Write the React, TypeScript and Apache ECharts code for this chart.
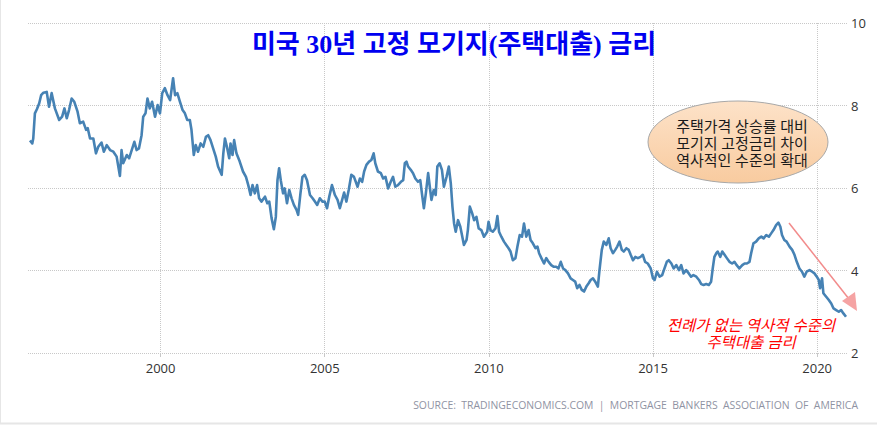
import React, { useEffect, useRef } from 'react';
import * as echarts from 'echarts';

// Weekly 30-year fixed mortgage rate (decimal year, percent)
const weekYears: number[] = [
  1996.02, 1996.09, 1996.12, 1996.17, 1996.23, 1996.30, 1996.36, 1996.43, 1996.53, 1996.60, 1996.68, 1996.78, 1996.91,
  1997.00, 1997.07, 1997.14, 1997.21, 1997.29, 1997.37, 1997.47, 1997.54, 1997.64, 1997.73, 1997.78, 1997.85, 1997.95,
  1998.03, 1998.10, 1998.20, 1998.27, 1998.36, 1998.46, 1998.56, 1998.66, 1998.76, 1998.81, 1998.86, 1998.97,
  1999.04, 1999.12, 1999.20, 1999.27, 1999.34, 1999.42, 1999.47, 1999.54, 1999.60, 1999.67, 1999.74, 1999.83, 1999.91, 1999.98,
  2000.05, 2000.13, 2000.21, 2000.29, 2000.38, 2000.44, 2000.51, 2000.59, 2000.67, 2000.74, 2000.81, 2000.89, 2000.94,
  2001.01, 2001.07, 2001.14, 2001.22, 2001.30, 2001.38, 2001.45, 2001.52, 2001.60, 2001.68, 2001.75, 2001.86, 2001.91, 2001.96,
  2002.03, 2002.09, 2002.13, 2002.19, 2002.24, 2002.31, 2002.41, 2002.51, 2002.60, 2002.67, 2002.74, 2002.80, 2002.87, 2002.94,
  2003.00, 2003.07, 2003.18, 2003.25, 2003.31, 2003.38, 2003.45, 2003.51, 2003.56, 2003.61, 2003.66, 2003.73, 2003.78, 2003.85, 2003.92, 2003.99,
  2004.06, 2004.14, 2004.19, 2004.26, 2004.32, 2004.39, 2004.46, 2004.55, 2004.63, 2004.70, 2004.77, 2004.85, 2004.93,
  2005.00, 2005.07, 2005.14, 2005.22, 2005.31, 2005.39, 2005.46, 2005.53, 2005.59, 2005.66, 2005.73, 2005.81, 2005.89,
  2006.00, 2006.07, 2006.14, 2006.20, 2006.27, 2006.35, 2006.42, 2006.49, 2006.54, 2006.62, 2006.71, 2006.78, 2006.85, 2006.93,
  2007.01, 2007.08, 2007.15, 2007.23, 2007.32, 2007.39, 2007.44, 2007.49, 2007.54, 2007.62, 2007.69, 2007.76, 2007.84, 2007.91, 2007.96,
  2008.02, 2008.08, 2008.15, 2008.20, 2008.25, 2008.32, 2008.38, 2008.43, 2008.50, 2008.57, 2008.63, 2008.71, 2008.78, 2008.84, 2008.89, 2008.94, 2008.99,
  2009.06, 2009.13, 2009.18, 2009.24, 2009.32, 2009.36, 2009.42, 2009.49, 2009.55, 2009.62, 2009.69, 2009.77, 2009.85, 2009.95, 2009.99,
  2010.05, 2010.12, 2010.20, 2010.26, 2010.31, 2010.38, 2010.46, 2010.53, 2010.60, 2010.66, 2010.73, 2010.81, 2010.87, 2010.94,
  2011.01, 2011.07, 2011.14, 2011.21, 2011.27, 2011.34, 2011.42, 2011.48, 2011.53, 2011.60, 2011.68, 2011.75, 2011.82, 2011.90, 2011.98,
  2012.05, 2012.12, 2012.19, 2012.26, 2012.33, 2012.41, 2012.49, 2012.56, 2012.63, 2012.69, 2012.76, 2012.83, 2012.90, 2012.97,
  2013.04, 2013.10, 2013.17, 2013.24, 2013.32, 2013.37, 2013.44, 2013.50, 2013.58, 2013.65, 2013.71, 2013.78, 2013.85, 2013.91, 2013.98,
  2014.05, 2014.11, 2014.19, 2014.26, 2014.32, 2014.39, 2014.46, 2014.54, 2014.62, 2014.69, 2014.76, 2014.84, 2014.93,
  2015.00, 2015.05, 2015.12, 2015.20, 2015.28, 2015.35, 2015.42, 2015.48, 2015.56, 2015.63, 2015.71, 2015.79, 2015.86, 2015.93,
  2016.01, 2016.09, 2016.16, 2016.23, 2016.32, 2016.40, 2016.47, 2016.54, 2016.62, 2016.70, 2016.77, 2016.82, 2016.87, 2016.93, 2016.97,
  2017.05, 2017.11, 2017.18, 2017.25, 2017.33, 2017.41, 2017.48, 2017.55, 2017.63, 2017.72, 2017.79, 2017.86, 2017.94, 2017.99,
  2018.06, 2018.14, 2018.22, 2018.30, 2018.37, 2018.45, 2018.53, 2018.60, 2018.67, 2018.75, 2018.82, 2018.88, 2018.93,
  2019.00, 2019.07, 2019.16, 2019.24, 2019.31, 2019.38, 2019.46, 2019.54, 2019.61, 2019.68, 2019.77, 2019.85, 2019.92, 2019.99,
  2020.05, 2020.09, 2020.15, 2020.19, 2020.27, 2020.35, 2020.43, 2020.50, 2020.58, 2020.66, 2020.73, 2020.80, 2020.88,
];

const weekRates: number[] = [
  7.15, 7.08, 7.2, 7.81, 7.91, 8.05, 8.25, 8.31, 8.33, 7.97, 8.3, 7.93, 7.65,
  7.73, 7.93, 7.69, 7.89, 8.17, 8.09, 7.85, 7.57, 7.61, 7.41, 7.45, 7.2, 7.2,
  6.84, 7.0, 7.1, 6.88, 7.04, 6.92, 6.88, 6.76, 6.29, 6.92, 6.6, 6.8,
  6.72, 6.92, 7.12, 6.92, 6.96, 7.28, 7.73, 7.81, 8.17, 7.93, 8.09, 7.73, 8.01, 7.81,
  8.3, 8.42, 8.25, 8.13, 8.66, 8.25, 8.3, 8.09, 7.89, 7.81, 7.65, 7.65, 7.41,
  6.8, 7.04, 6.88, 7.08, 7.0, 7.24, 7.28, 7.16, 6.96, 6.76, 6.52, 6.32, 6.84, 7.2,
  6.96, 6.72, 7.08, 6.8, 7.16, 6.84, 6.64, 6.4, 6.27, 6.07, 5.83, 6.07, 5.87, 6.07,
  5.75, 5.67, 5.79, 5.63, 5.67, 5.27, 5.0, 5.3, 6.19, 6.48, 6.19, 5.87, 5.99, 5.63, 5.95, 5.75,
  5.59, 5.47, 5.35, 5.87, 6.27, 6.32, 6.19, 5.83, 5.75, 5.67, 5.59, 5.75, 5.67,
  5.67, 5.51, 5.8, 6.07, 5.83, 5.71, 5.51, 5.71, 5.89, 5.67, 5.95, 6.32, 6.27,
  6.03, 6.23, 6.15, 6.4, 6.56, 6.64, 6.68, 6.84, 6.6, 6.4, 6.36, 6.23, 6.27, 5.99,
  6.15, 6.27, 6.03, 6.07, 6.15, 6.19, 6.6, 6.64, 6.52, 6.44, 6.36, 6.23, 6.15, 6.19, 5.87,
  5.51, 5.87, 6.36, 6.03, 5.71, 5.95, 5.83, 6.52, 6.6, 6.44, 6.03, 6.27, 6.52, 6.11, 5.55, 5.14, 4.94,
  5.22, 5.06, 4.86, 4.62, 4.74, 4.98, 5.55, 5.39, 5.22, 5.3, 5.02, 4.98, 4.82, 4.94, 5.18,
  4.98, 4.94, 5.02, 5.32, 4.94, 4.82, 4.7, 4.62, 4.54, 4.46, 4.25, 4.3, 4.58, 4.86,
  4.82, 5.14, 4.82, 4.98, 4.74, 4.66, 4.54, 4.58, 4.42, 4.3, 4.17, 4.3, 4.21, 4.13, 4.09,
  4.09, 4.05, 4.21, 4.05, 4.01, 3.93, 3.81, 3.77, 3.73, 3.57, 3.65, 3.53, 3.49, 3.61,
  3.69, 3.77, 3.81, 3.73, 3.61, 4.01, 4.5, 4.7, 4.62, 4.78, 4.54, 4.42, 4.5, 4.58, 4.7,
  4.5, 4.46, 4.54, 4.5, 4.38, 4.25, 4.33, 4.3, 4.33, 4.38, 4.21, 4.17, 4.05,
  3.81, 3.77, 3.97, 3.85, 3.89, 4.05, 4.21, 4.25, 4.17, 4.05, 4.13, 4.01, 4.13, 3.93,
  4.01, 3.93, 3.85, 3.89, 3.85, 3.77, 3.67, 3.65, 3.67, 3.65, 3.73, 4.05, 4.33, 4.42, 4.46,
  4.33, 4.46, 4.38, 4.3, 4.21, 4.17, 4.21, 4.13, 4.05, 4.13, 4.17, 4.17, 4.21, 4.42,
  4.66, 4.7, 4.78, 4.82, 4.78, 4.86, 4.82, 4.9, 4.98, 5.1, 5.16, 5.06, 4.86,
  4.74, 4.7, 4.58, 4.5, 4.38, 4.21, 4.05, 3.97, 3.85, 3.97, 4.01, 3.97, 3.93, 3.85,
  3.77, 3.57, 3.81, 3.45, 3.37, 3.29, 3.2, 3.08, 3.04, 3.0, 3.04, 2.96, 2.88,
];

const yearTicks: number[] = [2000, 2005, 2010, 2015, 2020];
const rateTicks: number[] = [2, 4, 6, 8, 10];
const titleText = '미국 30년 고정 모기지(주택대출) 금리';
const noteLines: string[] = ['주택가격 상승률 대비', '모기지 고정금리 차이', '역사적인 수준의 확대'];
const calloutLines: string[] = ['전례가 없는 역사적 수준의', '주택대출 금리'];
const sourceText = 'SOURCE:  TRADINGECONOMICS.COM  |  MORTGAGE  BANKERS  ASSOCIATION  OF  AMERICA';

export default function App() {
  const ref = useRef<HTMLDivElement>(null);

  useEffect(() => {
    if (!ref.current) return;
    const chart = echarts.init(ref.current, null, { renderer: 'svg' });
    const data = weekYears.map((y, i) => [y, weekRates[i]]);
    const sansFont = "'Open Sans', 'Noto Sans', sans-serif";
    const krFont = "'Liberation Serif', 'Noto Sans CJK KR', serif";

    chart.setOption({
      animation: false,
      backgroundColor: '#ffffff',
      grid: { left: 28, right: 30, top: 23, bottom: 79, containLabel: false },
      xAxis: {
        type: 'value',
        min: 1995.96,
        max: 2020.91,
        axisLine: { show: false },
        axisTick: {
          show: true,
          customValues: yearTicks,
          length: 4,
          lineStyle: { color: '#c8c8c8' },
        },
        axisLabel: {
          customValues: yearTicks,
          color: '#333333',
          fontSize: 13,
          fontFamily: sansFont,
          margin: 8,
          formatter: (v: number) => String(Math.round(v)),
        },
        splitLine: {
          show: true,
          lineStyle: { color: '#c8c8c8', type: 'dotted', width: 1 },
        },
      },
      yAxis: {
        type: 'value',
        position: 'right',
        min: rateTicks[0],
        max: rateTicks[rateTicks.length - 1],
        interval: 2,
        axisLine: { show: false },
        axisTick: { show: false },
        axisLabel: {
          color: '#333333',
          fontSize: 13,
          fontFamily: sansFont,
          margin: 4,
        },
        splitLine: {
          show: true,
          lineStyle: { color: '#c8c8c8', type: 'dotted', width: 1 },
        },
      },
      series: [
        {
          type: 'line',
          data,
          showSymbol: false,
          symbol: 'none',
          lineStyle: { color: '#4682b4', width: 2.6, join: 'round' },
          z: 3,
        },
      ],
      graphic: [
        // frame
        { type: 'line', shape: { x1: 0.5, y1: 0, x2: 0.5, y2: 424 }, style: { stroke: '#e6e6e6', lineWidth: 1 }, silent: true },
        { type: 'line', shape: { x1: 0, y1: 423.5, x2: 877, y2: 423.5 }, style: { stroke: '#e6e6e6', lineWidth: 2 }, silent: true },
        // title
        {
          type: 'text',
          x: 454,
          y: 44,
          style: {
            text: titleText,
            fill: '#0000f0',
            font: "bold 26px 'Liberation Serif', 'Noto Sans CJK KR', serif",
            align: 'center',
            verticalAlign: 'middle',
          },
          z: 10,
        },
        // note ellipse
        {
          type: 'ellipse',
          shape: { cx: 738, cy: 142, rx: 90, ry: 41 },
          style: {
            fill: {
              type: 'linear', x: 0, y: 0, x2: 0, y2: 1,
              colorStops: [
                { offset: 0, color: '#fde2c8' },
                { offset: 1, color: '#f8cb9f' },
              ],
            },
            stroke: '#a8a8a8',
            lineWidth: 1,
          },
          z: 10,
        },
        {
          type: 'text',
          x: 742,
          y: 143.5,
          style: {
            text: noteLines.join('\n'),
            fill: '#1a1a1a',
            font: `15px ${krFont}`,
            lineHeight: 17,
            align: 'center',
            verticalAlign: 'middle',
          },
          z: 11,
        },
        // arrow
        {
          type: 'line',
          shape: { x1: 789, y1: 223, x2: 849, y2: 299 },
          style: { stroke: '#f28b8b', lineWidth: 1.5 },
          z: 10,
        },
        {
          type: 'polygon',
          shape: { points: [[857, 311], [842, 301], [855, 292]] },
          style: { fill: '#f5a3a3' },
          z: 10,
        },
        // red callout
        {
          type: 'text',
          x: 751,
          y: 334,
          style: {
            text: calloutLines.join('\n'),
            fill: '#ff0000',
            font: `italic 15.5px ${krFont}`,
            lineHeight: 17.2,
            align: 'center',
            verticalAlign: 'middle',
          },
          z: 11,
        },
        // source
        {
          type: 'text',
          x: 858,
          y: 405,
          style: {
            text: sourceText,
            fill: '#8f93a3',
            font: `10.4px ${sansFont}`,
            align: 'right',
            verticalAlign: 'middle',
          },
          z: 10,
        },
      ],
    });

    return () => {
      chart.dispose();
    };
  }, []);

  return (
    <div
      ref={ref}
      style={{ position: 'absolute', left: 0, top: 0, width: 877, height: 432, background: '#fff' }}
    />
  );
}
